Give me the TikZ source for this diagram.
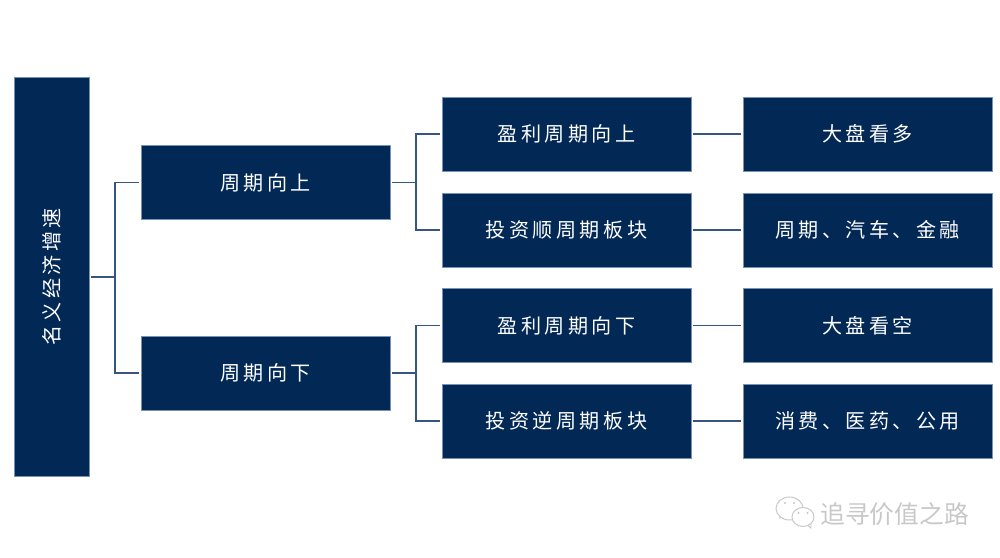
\documentclass[tikz,border=0pt]{standalone}
\usepackage{fontspec}
\newfontfamily\cjk[LetterSpace=17]{Noto Sans CJK SC}
\newfontfamily\markfont{Noto Sans CJK SC}

\definecolor{BoxColor}{RGB}{2,40,86}
\definecolor{BoxEdgeColor}{RGB}{120,145,180}
\definecolor{LinkColor}{RGB}{55,85,130}
\definecolor{MarkColor}{RGB}{200,200,200}

\begin{document}
\begin{tikzpicture}[
		x=0.25mm, y=-0.25mm,
		block/.style={draw=BoxEdgeColor, line width=0.3pt, fill=BoxColor, text=white, minimum width=62.2mm, minimum height=18.6mm, inner sep=0pt, font=\cjk\fontsize{14.3}{16}\selectfont},
		link/.style={LinkColor, line width=1pt, shorten <= 0.5mm, shorten >= 0.5mm},
		bubble/.style={draw=MarkColor, fill=white, line width=0.7pt},
		watermark/.style={text=MarkColor, inner sep=0pt, font=\markfont\fontsize{17.6}{20}\selectfont}
	]
	\useasboundingbox (0, 0) rectangle (1000, 558);

	% Boxes
	\node[block, minimum width=18.7mm, minimum height=99.7mm] (nominal) at (51.5, 277) {\rotatebox{90}{名义经济增速}};

	\node[block] (up) at (265.5, 182.5) {周期向上};
	\node[block] (down) at (265.5, 373) {周期向下};

	\node[block] (profitup) at (566.5, 134) {盈利周期向上};
	\node[block] (procyc) at (566.5, 230) {投资顺周期板块};
	\node[block] (profitdown) at (566.5, 325.5) {盈利周期向下};
	\node[block] (countercyc) at (566.5, 421) {投资逆周期板块};

	\node[block] (bull) at (867.5, 134) {大盘看多};
	\node[block] (cyclical) at (867.5, 230) {周期、汽车、金融};
	\node[block] (bear) at (867.5, 325.5) {大盘看空};
	\node[block] (defensive) at (867.5, 421) {消费、医药、公用};

	% Connectors
	\draw[link] (nominal.east) -- ++(26, 0) |- (up.west);
	\draw[link] (nominal.east) -- ++(26, 0) |- (down.west);
	\draw[link] (up.east) -- ++(26, 0) |- (profitup.west);
	\draw[link] (up.east) -- ++(26, 0) |- (procyc.west);
	\draw[link] (down.east) -- ++(26, 0) |- (profitdown.west);
	\draw[link] (down.east) -- ++(26, 0) |- (countercyc.west);
	\draw[link] (profitup) -- (bull);
	\draw[link] (procyc) -- (cyclical);
	\draw[link] (profitdown) -- (bear);
	\draw[link] (countercyc) -- (defensive);

	% Watermark
	\filldraw[bubble] (780, 518) -- (783, 509) -- (790, 514) -- cycle;
	\draw[bubble] (789.5, 508.5) ellipse (13.5 and 11.5);
	\fill[MarkColor] (785, 503) circle (1.1) (794, 503) circle (1.1);
	\filldraw[bubble] (811, 528) -- (801, 520) -- (811, 518) -- cycle;
	\draw[bubble] (803, 517) ellipse (11 and 9.5);
	\fill[MarkColor] (798.5, 513) circle (1.1) (807.5, 513) circle (1.1);
	\node[watermark, anchor=west] (brand) at (820, 514) {追寻价值之路};

\end{tikzpicture}
\end{document}
